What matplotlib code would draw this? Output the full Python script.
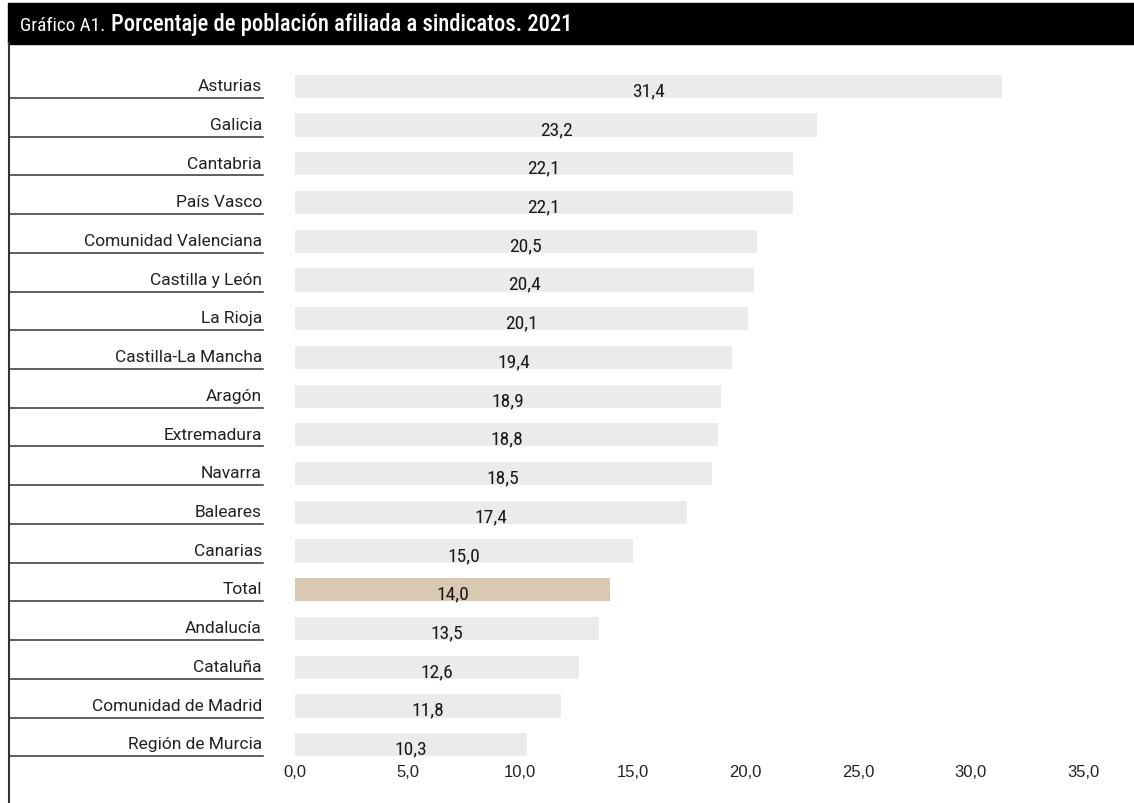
import matplotlib
matplotlib.use("Agg")
import matplotlib.pyplot as plt
from matplotlib.transforms import blended_transform_factory

regions = [
    "Asturias", "Galicia", "Cantabria", "País Vasco", "Comunidad Valenciana",
    "Castilla y León", "La Rioja", "Castilla-La Mancha", "Aragón", "Extremadura",
    "Navarra", "Baleares", "Canarias", "Total", "Andalucía", "Cataluña",
    "Comunidad de Madrid", "Región de Murcia",
]
values = [31.4, 23.2, 22.1, 22.1, 20.5, 20.4, 20.1, 19.4, 18.9, 18.8,
          18.5, 17.4, 15.0, 14.0, 13.5, 12.6, 11.8, 10.3]
x_ticks = [0, 5, 10, 15, 20, 25, 30, 35]


def fmt(v):
    return f"{v:.1f}".replace(".", ",")


W, H = 1134, 804
fig = plt.figure(figsize=(W / 100, H / 100), dpi=100)

# plot area: x=0 at 295px, x=35 at 1083px; rows span 68..765px
ax = fig.add_axes([295 / W, 1 - 765 / H, 788 / W, (765 - 68) / H])
ypos = list(range(len(regions)))
colors = ["#d9c9b3" if r == "Total" else "#ebebeb" for r in regions]
ax.barh(ypos, values, height=0.6, color=colors)
ax.set_xlim(0, 35)
ax.set_ylim(len(regions) - 0.5, -0.5)

for y, v in zip(ypos, values):
    ax.text(v / 2, y + 0.1, fmt(v), ha="center", va="center",
            fontsize=14, family="Roboto Condensed", color="#1a1a1a")

ax.set_xticks(x_ticks)
ax.set_xticklabels([fmt(t) for t in x_ticks],
                   family="Liberation Sans", fontsize=12, color="#222222")
ax.tick_params(axis="x", length=0, pad=0)
ax.set_yticks([])
for s in ax.spines.values():
    s.set_visible(False)

# category labels with a rule under each one
tr = blended_transform_factory(fig.transFigure, ax.transData)
for y, r in zip(ypos, regions):
    ax.text(262 / W, y - 0.02, r, transform=tr, ha="right", va="center",
            fontsize=12.5, family="Roboto", color="#222222")
    ax.plot([9 / W, 263 / W], [y + 0.3, y + 0.3], transform=tr, color="#333333",
            lw=1.1, clip_on=False)

# frame and title bar
fig.add_artist(plt.Line2D([8.5 / W, 8.5 / W], [0, 1 - 44 / H], color="#333333", lw=1.5))
fig.add_artist(plt.Rectangle((8 / W, 1 - 45 / H), 1, 41 / H, color="black",
                             transform=fig.transFigure))
t1 = fig.text(20 / W, 1 - 26 / H, "Gráfico A1.", color="white", fontsize=13.8,
              family="Roboto Condensed", va="center")
fig.canvas.draw()
x_end = t1.get_window_extent().x1
fig.text((x_end + 6) / W, 1 - 25 / H, "Porcentaje de población afiliada a sindicatos. 2021",
         color="white", fontsize=16.3, weight="medium", family="Roboto Condensed",
         va="center")

fig.savefig("out.png", dpi=100)
